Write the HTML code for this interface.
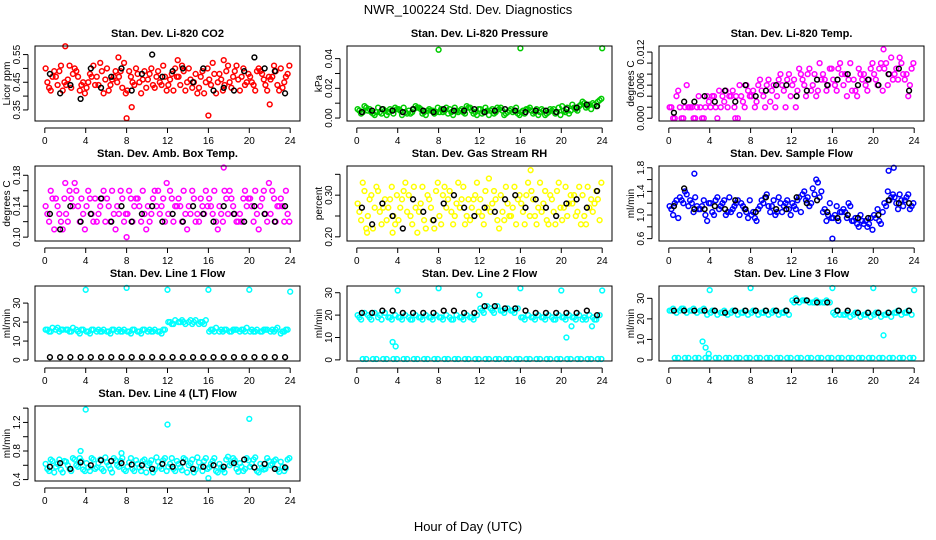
<!DOCTYPE html>
<html><head><meta charset="utf-8">
<style>
html,body{margin:0;padding:0;background:#fff;}
svg{display:block;font-family:"Liberation Sans",Arial,sans-serif;}
</style></head>
<body>
<svg id="chart" width="936" height="540" viewBox="0 0 936 540" xmlns="http://www.w3.org/2000/svg">
<rect x="0" y="0" width="936" height="540" fill="#fff"/>
<text x="468" y="14" font-size="13" text-anchor="middle">NWR_100224  Std. Dev. Diagnostics</text>
<text x="468" y="531" font-size="13" text-anchor="middle">Hour of Day (UTC)</text>
<g id="panels"></g>
</svg>
<script>
// ---- data ----
const hours = [0,1,2,3,4,5,6,7,8,9,10,11,12,13,14,15,16,17,18,19,20,21,22,23];
const xTicks = [0,4,8,12,16,20,24];

const co2A = [0.50,0.47,0.44,0.49,0.43,0.47,0.50,0.45,0.42,0.48,0.46,0.49,0.44,0.47,0.50,0.43,0.46,0.48,0.45,0.42,0.47,0.49,0.46,0.50];
const co2B = [0.43,0.49,0.51,0.42,0.48,0.52,0.44,0.49,0.47,0.41,0.50,0.44,0.48,0.51,0.43,0.49,0.52,0.42,0.47,0.50,0.44,0.46,0.51,0.45];
const co2C = [0.47,0.42,0.48,0.45,0.51,0.41,0.47,0.52,0.44,0.49,0.43,0.47,0.50,0.42,0.48,0.45,0.41,0.49,0.51,0.45,0.49,0.42,0.44,0.48];
const co2D = [0.45,0.44,0.46,0.47,0.45,0.44,0.42,0.47,0.49,0.45,0.48,0.45,0.46,0.44,0.46,0.47,0.44,0.46,0.43,0.47,0.45,0.48,0.47,0.43];
const co2E = [0.42,0.51,0.43,0.44,0.47,0.49,0.46,0.43,0.45,0.46,0.44,0.51,0.42,0.49,0.45,0.41,0.48,0.44,0.49,0.44,0.42,0.44,0.49,0.47];
const co2F = [0.49,0.45,0.50,0.41,0.44,0.46,0.49,0.41,0.50,0.43,0.47,0.42,0.47,0.45,0.41,0.50,0.45,0.51,0.46,0.48,0.50,0.47,0.42,0.51];
const co2Black = [0.48,0.41,0.44,0.39,0.50,0.43,0.47,0.50,0.42,0.48,0.55,0.47,0.49,0.50,0.45,0.50,0.42,0.43,0.42,0.49,0.54,0.50,0.49,0.41];
const co2OutX = [2,7.2,8,16,17.5,13,8.5,22]; const co2OutY = [0.58,0.54,0.32,0.33,0.53,0.53,0.36,0.37];

const presA = [0.006,0.005,0.007,0.004,0.006,0.005,0.007,0.006,0.004,0.006,0.005,0.007,0.006,0.005,0.007,0.006,0.004,0.005,0.006,0.005,0.008,0.009,0.011,0.010];
const presB = [0.003,0.004,0.003,0.005,0.002,0.004,0.003,0.005,0.004,0.002,0.004,0.003,0.004,0.003,0.002,0.005,0.003,0.004,0.002,0.003,0.004,0.006,0.007,0.008];
const presC = [0.008,0.002,0.005,0.007,0.004,0.008,0.002,0.004,0.007,0.005,0.008,0.002,0.005,0.007,0.004,0.003,0.006,0.002,0.004,0.007,0.003,0.008,0.009,0.012];
const presD = [0.005,0.006,0.004,0.006,0.005,0.003,0.006,0.005,0.006,0.004,0.006,0.005,0.003,0.006,0.005,0.004,0.005,0.003,0.005,0.006,0.005,0.007,0.010,0.009];
const presE = [0.004,0.003,0.006,0.003,0.007,0.006,0.004,0.003,0.005,0.007,0.003,0.004,0.007,0.004,0.003,0.007,0.006,0.006,0.003,0.004,0.007,0.005,0.008,0.011];
const presF = [0.007,0.004,0.002,0.006,0.003,0.007,0.005,0.007,0.003,0.004,0.007,0.006,0.002,0.006,0.005,0.002,0.007,0.004,0.006,0.002,0.005,0.009,0.006,0.013];
const presBlack = [0.004,0.005,0.006,0.005,0.004,0.006,0.005,0.004,0.006,0.005,0.005,0.006,0.004,0.005,0.006,0.005,0.004,0.005,0.005,0.004,0.006,0.007,0.009,0.008];
const presOutX = [8,16,24]; const presOutY = [0.046,0.047,0.047];

const tempA = [0.002,0.002,0.002,0.002,0.002,0.002,0.004,0.004,0.004,0.005,0.005,0.006,0.006,0.007,0.006,0.008,0.007,0.006,0.007,0.008,0.008,0.009,0.008,0.007];
const tempB = [0.000,0.000,0.000,0.000,0.004,0.003,0.002,0.002,0.002,0.002,0.002,0.002,0.002,0.004,0.004,0.005,0.005,0.004,0.004,0.005,0.006,0.006,0.007,0.004];
const tempC = [0.004,0.006,0.002,0.004,0.000,0.002,0.000,0.005,0.006,0.007,0.007,0.008,0.009,0.009,0.010,0.009,0.010,0.010,0.008,0.009,0.010,0.011,0.010,0.009];
const tempD = [0.002,0.000,0.002,0.000,0.004,0.004,0.005,0.003,0.005,0.004,0.006,0.005,0.007,0.006,0.008,0.007,0.006,0.008,0.005,0.006,0.007,0.010,0.009,0.008];
const tempE = [0.000,0.002,0.000,0.002,0.002,0.005,0.004,0.006,0.003,0.006,0.004,0.007,0.005,0.008,0.005,0.006,0.009,0.007,0.009,0.007,0.009,0.008,0.011,0.006];
const tempF = [0.005,0.002,0.004,0.003,0.005,0.004,0.006,0.004,0.007,0.003,0.008,0.004,0.008,0.005,0.007,0.009,0.008,0.005,0.007,0.010,0.005,0.007,0.008,0.010];
const tempBlack = [0.001,0.003,0.003,0.004,0.003,0.005,0.003,0.006,0.004,0.005,0.006,0.006,0.004,0.005,0.007,0.006,0.007,0.008,0.006,0.007,0.006,0.008,0.009,0.005];
const tempOutX = [21,6.5]; const tempOutY = [0.0125,0.0];

const ambA = [0.14,0.15,0.13,0.16,0.14,0.12,0.15,0.14,0.13,0.15,0.14,0.16,0.13,0.15,0.14,0.12,0.15,0.14,0.16,0.13,0.15,0.14,0.13,0.15];
const ambB = [0.12,0.13,0.16,0.12,0.15,0.14,0.12,0.16,0.15,0.12,0.13,0.14,0.15,0.12,0.16,0.14,0.13,0.12,0.14,0.15,0.12,0.16,0.15,0.12];
const ambC = [0.15,0.11,0.14,0.13,0.12,0.16,0.13,0.12,0.14,0.13,0.16,0.12,0.14,0.13,0.12,0.16,0.12,0.15,0.12,0.14,0.13,0.12,0.14,0.13];
const ambD = [0.13,0.14,0.12,0.14,0.16,0.13,0.14,0.13,0.16,0.14,0.12,0.13,0.16,0.14,0.13,0.15,0.14,0.13,0.15,0.12,0.14,0.15,0.16,0.14];
const ambE = [0.16,0.12,0.15,0.15,0.13,0.15,0.16,0.15,0.12,0.16,0.15,0.15,0.12,0.16,0.15,0.13,0.16,0.16,0.13,0.16,0.16,0.13,0.12,0.16];
const ambF = [0.11,0.15,0.17,0.11,0.15,0.12,0.11,0.13,0.15,0.11,0.14,0.17,0.14,0.11,0.13,0.14,0.11,0.13,0.12,0.15,0.11,0.17,0.14,0.12];
const ambBlack = [0.13,0.11,0.14,0.12,0.13,0.15,0.12,0.14,0.12,0.13,0.14,0.12,0.13,0.12,0.14,0.13,0.12,0.14,0.13,0.12,0.14,0.13,0.12,0.14];
const ambOutX = [17.5,8,2]; const ambOutY = [0.19,0.10,0.17];

const rhA = [0.28,0.25,0.31,0.27,0.24,0.30,0.26,0.29,0.25,0.31,0.27,0.24,0.29,0.26,0.30,0.25,0.28,0.31,0.26,0.29,0.24,0.28,0.30,0.26];
const rhB = [0.24,0.30,0.23,0.32,0.29,0.23,0.32,0.24,0.30,0.23,0.32,0.29,0.23,0.31,0.24,0.32,0.23,0.25,0.31,0.23,0.32,0.25,0.23,0.31];
const rhC = [0.31,0.27,0.29,0.23,0.33,0.27,0.22,0.31,0.27,0.28,0.25,0.33,0.27,0.24,0.28,0.29,0.33,0.27,0.23,0.33,0.28,0.32,0.27,0.24];
const rhD = [0.26,0.29,0.26,0.29,0.27,0.25,0.28,0.27,0.23,0.26,0.29,0.27,0.25,0.28,0.26,0.27,0.26,0.29,0.28,0.26,0.27,0.30,0.25,0.28];
const rhE = [0.33,0.22,0.27,0.25,0.31,0.32,0.24,0.22,0.32,0.25,0.23,0.30,0.31,0.29,0.32,0.23,0.30,0.23,0.24,0.31,0.25,0.26,0.32,0.29];
const rhF = [0.22,0.32,0.24,0.30,0.26,0.21,0.30,0.33,0.29,0.33,0.29,0.26,0.34,0.22,0.25,0.30,0.25,0.33,0.30,0.27,0.30,0.23,0.29,0.33];
const rhBlack = [0.27,0.23,0.28,0.25,0.22,0.29,0.26,0.24,0.28,0.30,0.27,0.25,0.27,0.26,0.29,0.30,0.27,0.29,0.27,0.25,0.28,0.29,0.27,0.31];
const rhOutX = [17,1,3.5]; const rhOutY = [0.36,0.21,0.21];

const sfA = [1.15,1.30,1.25,1.10,1.20,1.15,1.05,1.20,1.00,1.25,1.15,1.05,1.20,1.35,1.45,1.05,0.95,1.10,0.90,0.85,1.00,1.20,1.30,1.25];
const sfB = [1.00,1.20,1.05,1.25,1.00,1.25,1.15,1.10,0.95,1.30,1.00,1.20,1.10,1.25,1.60,0.90,1.15,0.95,0.85,0.80,1.10,1.40,1.10,1.35];
const sfC = [1.25,1.35,1.15,0.90,1.30,1.05,1.25,0.95,1.10,1.15,1.30,1.10,1.30,1.15,1.30,1.20,1.05,1.15,1.00,0.95,0.85,1.30,1.25,1.15];
const sfD = [1.10,1.25,1.20,1.15,1.05,1.20,1.10,1.15,1.05,1.20,1.25,1.15,1.15,1.40,1.35,1.10,1.00,1.05,0.95,0.90,0.95,1.15,1.20,1.30];
const sfE = [1.20,1.40,1.30,1.00,1.25,1.00,1.20,1.05,0.90,1.35,1.05,1.25,1.25,1.30,1.55,1.00,0.90,1.20,0.80,0.85,0.90,1.25,1.35,1.10];
const sfF = [0.95,1.15,1.10,1.20,1.10,1.30,1.00,1.25,1.15,1.05,1.20,1.00,1.05,1.20,1.40,0.95,1.05,0.90,0.90,0.75,1.05,1.35,1.15,1.20];
const sfBlack = [1.15,1.45,1.10,1.10,1.15,1.10,1.25,1.10,1.05,1.30,1.10,1.10,1.30,1.20,1.25,1.05,0.95,1.00,0.95,0.95,1.00,1.25,1.20,1.20];
const sfOutX = [21.5,22,16,2.5]; const sfOutY = [1.75,1.80,0.60,1.70];

const l1A = [16,16,16,16,15,15,15,15,15,15,15,15,20,20,20,19,15,15,15,15,15,15,15,14];
const l1B = [15,15,15,14,14,15,14,15,14,14,15,14,19,21,19,20,16,15,16,16,15,16,15,15];
const l1C = [17,16,17,16,16,16,16,16,16,16,16,16,21,19,21,21,17,16,16,17,16,16,17,16];
const l1D = [16,17,16,15,15,16,15,16,15,15,16,15,20,20,21,20,16,16,15,16,16,15,16,15];
const l1E = [15,16,15,16,16,15,16,15,16,16,15,16,19,20,20,19,15,16,16,15,15,16,16,16];
const l1Black = [1.5,1.5,1.5,1.5,1.5,1.5,1.5,1.5,1.5,1.5,1.5,1.5,1.5,1.5,1.5,1.5,1.5,1.5,1.5,1.5,1.5,1.5,1.5,1.5];
const l1OutX = [4,8,12,16,20,24]; const l1OutY = [37,38,37,37,37,36];

const l2A = [20,20,19,19,19,19,19,19,19,19,19,19,23,23,22,22,19,19,19,19,19,19,18,19];
const l2B = [18,18,18,18,18,18,18,18,18,18,18,18,21,21,21,21,18,18,18,18,18,18,18,18];
const l2C = [21,21,21,20,20,20,20,20,20,20,20,20,24,24,23,23,20,20,20,20,20,20,20,20];
const l2D = [19,19,20,19,19,18,19,19,19,18,19,19,22,22,22,22,19,19,19,18,19,19,19,18];
const l2Zero = [0.4,0.4,0.4,0.4,0.4,0.4,0.4,0.4,0.4,0.4,0.4,0.4,0.4,0.4,0.4,0.4,0.4,0.4,0.4,0.4,0.4,0.4,0.4,0.4];
const l2Black = [21,21,22,22,21,21,21,21,22,22,21,21,24,24,23,23,22,21,21,21,21,21,22,20];
const l2OutX = [4,8,16,20,24,3.5,3.8,20.5,12,21,23]; const l2OutY = [31,32,32,31,31,8,6,10,29,15,15];

const l3A = [24,24,24,24,23,23,23,23,23,23,23,23,29,29,28,28,23,22,22,22,22,22,23,23];
const l3B = [25,25,25,25,24,24,24,24,24,24,24,24,30,29,29,29,24,23,23,23,23,23,24,24];
const l3C = [23,23,23,22,22,22,22,22,22,22,22,22,28,28,28,28,22,21,21,21,21,21,22,22];
const l3D = [24,25,24,24,24,23,24,23,24,23,24,23,28,29,28,28,22,22,23,22,23,22,23,23];
const l3Zero = [1,1,1,1,1,1,1,1,1,1,1,1,1,1,1,1,1,1,1,1,1,1,1,1];
const l3Black = [24,24,24,24,24,23,24,24,24,24,24,24,29,29,28,28,24,24,23,23,23,23,24,24];
const l3OutX = [4,8,16,20,24,3.3,3.6,3.9,21]; const l3OutY = [34,35,35,35,34,9,6,3,12];

const l4A = [0.62,0.58,0.65,0.60,0.63,0.57,0.64,0.60,0.58,0.62,0.60,0.65,0.58,0.62,0.60,0.64,0.57,0.62,0.60,0.63,0.58,0.62,0.60,0.65];
const l4B = [0.52,0.68,0.55,0.70,0.52,0.68,0.55,0.66,0.70,0.52,0.67,0.55,0.70,0.53,0.68,0.52,0.66,0.54,0.70,0.52,0.68,0.54,0.66,0.52];
const l4C = [0.66,0.50,0.70,0.54,0.68,0.52,0.70,0.54,0.52,0.68,0.54,0.70,0.52,0.68,0.54,0.70,0.52,0.68,0.55,0.70,0.52,0.70,0.54,0.68];
const l4D = [0.55,0.62,0.60,0.58,0.57,0.63,0.60,0.58,0.64,0.57,0.63,0.58,0.62,0.57,0.63,0.58,0.62,0.57,0.63,0.58,0.62,0.57,0.62,0.58];
const l4E = [0.68,0.54,0.52,0.66,0.70,0.55,0.50,0.70,0.55,0.66,0.50,0.67,0.55,0.70,0.50,0.66,0.70,0.50,0.67,0.55,0.71,0.55,0.68,0.56];
const l4F = [0.50,0.66,0.68,0.52,0.55,0.71,0.67,0.52,0.67,0.50,0.71,0.52,0.66,0.50,0.71,0.55,0.50,0.72,0.51,0.67,0.50,0.66,0.51,0.70];
const l4Black = [0.58,0.63,0.55,0.64,0.60,0.67,0.66,0.63,0.61,0.60,0.55,0.62,0.58,0.64,0.55,0.58,0.60,0.58,0.63,0.68,0.57,0.62,0.55,0.57];
const l4OutX = [4,12,20,3.5,7.5,16]; const l4OutY = [1.38,1.17,1.25,0.80,0.77,0.42];

// ---- panel definitions ----
const panels = [
 {name:'li820-co2',title:'Stan. Dev. Li-820 CO2',ylab:'Licor ppm',col:0,row:0,ymin:0.31,ymax:0.581,color:'#ff0000',
  series:[co2A,co2B,co2C,co2D,co2E,co2F],black:co2Black,ox:co2OutX,oy:co2OutY,yt:[0.35,0.40,0.45,0.50,0.55],yl:['0.35','','0.45','','0.55']},
 {name:'li820-pressure',title:'Stan. Dev. Li-820 Pressure',ylab:'kPa',col:1,row:0,ymin:-0.002,ymax:0.0485,color:'#00cc00',
  series:[presA,presB,presC,presD,presE,presF],black:presBlack,ox:presOutX,oy:presOutY,yt:[0,0.01,0.02,0.03,0.04],yl:['0.00','','0.02','','0.04']},
 {name:'li820-temp',title:'Stan. Dev. Li-820 Temp.',ylab:'degrees C',col:2,row:0,ymin:-0.0005,ymax:0.0131,color:'#ff00ff',
  series:[tempA,tempB,tempC,tempD,tempE,tempF],black:tempBlack,ox:tempOutX,oy:tempOutY,yt:[0,0.002,0.004,0.006,0.008,0.010,0.012],yl:['0.000','','','0.006','','','0.012']},
 {name:'amb-box-temp',title:'Stan. Dev. Amb. Box Temp.',ylab:'degrees C',col:0,row:1,ymin:0.095,ymax:0.192,color:'#ff00ff',
  series:[ambA,ambB,ambC,ambD,ambE,ambF],black:ambBlack,ox:ambOutX,oy:ambOutY,yt:[0.10,0.12,0.14,0.16,0.18],yl:['0.10','','0.14','','0.18']},
 {name:'gas-stream-rh',title:'Stan. Dev. Gas Stream RH',ylab:'percent',col:1,row:1,ymin:0.19,ymax:0.37,color:'#ffff00',
  series:[rhA,rhB,rhC,rhD,rhE,rhF],black:rhBlack,ox:rhOutX,oy:rhOutY,yt:[0.20,0.25,0.30,0.35],yl:['0.20','','0.30','']},
 {name:'sample-flow',title:'Stan. Dev. Sample Flow',ylab:'ml/min',col:2,row:1,ymin:0.56,ymax:1.83,color:'#0000ff',
  series:[sfA,sfB,sfC,sfD,sfE,sfF],black:sfBlack,ox:sfOutX,oy:sfOutY,yt:[0.6,0.8,1.0,1.2,1.4,1.6,1.8],yl:['0.6','','1.0','','1.4','','1.8']},
 {name:'line1-flow',title:'Stan. Dev. Line 1 Flow',ylab:'ml/min',col:0,row:2,ymin:-0.5,ymax:39,color:'#00ffff',
  series:[l1A,l1B,l1C,l1D,l1E],black:l1Black,ox:l1OutX,oy:l1OutY,yt:[0,10,20,30],yl:['0','10','20','30']},
 {name:'line2-flow',title:'Stan. Dev. Line 2 Flow',ylab:'ml/min',col:1,row:2,ymin:-0.5,ymax:33,color:'#00ffff',
  series:[l2A,l2B,l2C,l2D,l2Zero,l2Zero],black:l2Black,ox:l2OutX,oy:l2OutY,yt:[0,10,20,30],yl:['0','10','20','30']},
 {name:'line3-flow',title:'Stan. Dev. Line 3 Flow',ylab:'ml/min',col:2,row:2,ymin:-0.5,ymax:36,color:'#00ffff',
  series:[l3A,l3B,l3C,l3D,l3Zero,l3Zero],black:l3Black,ox:l3OutX,oy:l3OutY,yt:[0,10,20,30],yl:['0','10','20','30']},
 {name:'line4-flow',title:'Stan. Dev. Line 4 (LT) Flow',ylab:'ml/min',col:0,row:3,ymin:0.38,ymax:1.43,color:'#00ffff',
  series:[l4A,l4B,l4C,l4D,l4E,l4F],black:l4Black,ox:l4OutX,oy:l4OutY,yt:[0.4,0.6,0.8,1.0,1.2,1.4],yl:['0.4','','0.8','','1.2','']}
];

const NS='http://www.w3.org/2000/svg';
const root=document.getElementById('panels');
function mk(tag,attrs,parent){const e=document.createElementNS(NS,tag);for(const k in attrs)e.setAttribute(k,attrs[k]);parent.appendChild(e);return e;}
const BOXW=265,BOXH=75;
const offsets=[0.08,0.42,0.75,0.25,0.58,0.92];

panels.forEach(p=>{
  const bx=35+p.col*312, by=46+p.row*120;
  const xs=v=>bx+(v+0.96)/25.92*BOXW;
  const ys=v=>by+BOXH-(v-p.ymin)/(p.ymax-p.ymin)*BOXH;
  const g=mk('g',{},root);
  
  
  const t=mk('text',{x:bx+BOXW/2,y:by-9,'font-size':11,'font-weight':'bold','text-anchor':'middle'},g);
  t.textContent=p.title;
  
  
  const yl=mk('text',{x:0,y:0,'font-size':10,'text-anchor':'middle',transform:`translate(${bx-25},${by+BOXH/2}) rotate(-90)`},g);
  yl.textContent=p.ylab;
  
  
  const pts=mk('g',{fill:'none','stroke-width':1.5},g);
  
  
  p.series.forEach((s,si)=>{
    s.forEach((v,i)=>{
      const c=mk('circle',{cx:xs(hours[i]+offsets[si%offsets.length]),cy:ys(v),r:2.4,stroke:p.color},pts);
      
      
    });
  });
  p.ox.forEach((xv,i)=>{
    const c=mk('circle',{cx:xs(xv),cy:ys(p.oy[i]),r:2.4,stroke:p.color},pts);
    
    
  });
  p.black.forEach((v,i)=>{
    const c=mk('circle',{cx:xs(hours[i]+0.5),cy:ys(v),r:2.4,stroke:'#000'},pts);
    
    
  });
  const box=mk('rect',{x:bx,y:by,width:BOXW,height:BOXH,fill:'none',stroke:'#000','stroke-width':1},g);
  
  
  const xa=mk('g',{},g);
  
  
  mk('line',{x1:xs(0),x2:xs(24),y1:by+BOXH+7,y2:by+BOXH+7,stroke:'#000'},xa);
  xTicks.forEach(v=>{
    mk('line',{x1:xs(v),x2:xs(v),y1:by+BOXH+7,y2:by+BOXH+12,stroke:'#000'},xa);
    const tl=mk('text',{x:xs(v),y:by+BOXH+23,'font-size':10,'text-anchor':'middle'},xa);
    tl.textContent=String(v);
    
    
  });
  const ya=mk('g',{},g);
  
  
  const ax=bx-7;
  mk('line',{x1:ax,x2:ax,y1:ys(p.yt[0]),y2:ys(p.yt[p.yt.length-1]),stroke:'#000'},ya);
  p.yt.forEach((v,i)=>{
    mk('line',{x1:ax-5,x2:ax,y1:ys(v),y2:ys(v),stroke:'#000'},ya);
    if(p.yl[i]){
      const tl=mk('text',{x:0,y:0,'font-size':10,'text-anchor':'middle',transform:`translate(${ax-8},${ys(v)}) rotate(-90)`},ya);
      tl.textContent=p.yl[i];
      
      
    }
  });
});
</script>
</body></html>
